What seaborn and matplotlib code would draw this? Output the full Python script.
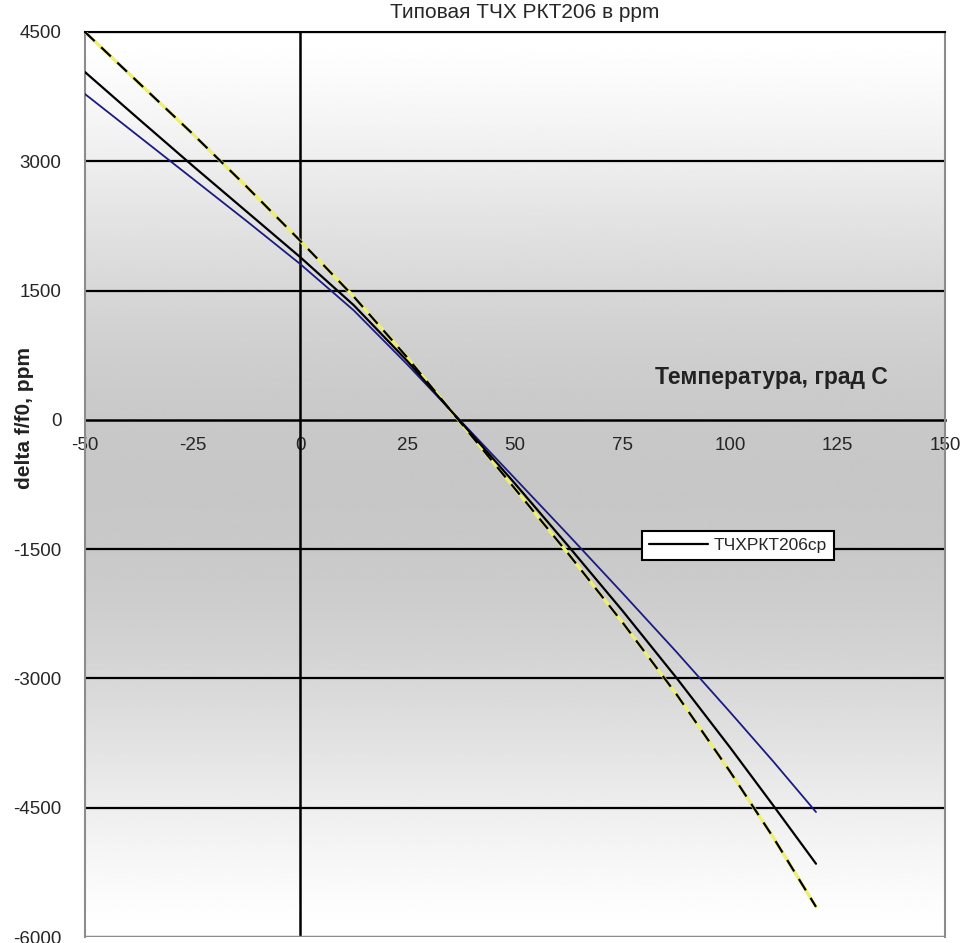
import numpy as np
import pandas as pd
import matplotlib
matplotlib.use("Agg")
import matplotlib.pyplot as plt
import seaborn as sns

# ---- data ----
temps = [-50, -37.5, -25, -12.5, 0, 12.5, 25, 37.5, 50, 62.5, 75, 87.5, 100, 110, 120]
upper_dashed = [4500, 3910, 3320, 2710, 2080, 1430, 720, -40, -800, -1560, -2350, -3180, -4080, -4840, -5650]
avg_solid = [4035, 3490, 2950, 2420, 1890, 1330, 680, -30, -740, -1470, -2215, -2990, -3800, -4470, -5150]
lower_navy = [3780, 3290, 2800, 2310, 1810, 1270, 640, -20, -680, -1340, -2010, -2690, -3390, -3960, -4550]

x_ticks = [-50, -25, 0, 25, 50, 75, 100, 125, 150]
y_ticks = [-6000, -4500, -3000, -1500, 0, 1500, 3000, 4500]

title = "Типовая ТЧХ РКТ206 в ppm"
x_label = "Температура, град С"
y_label = "delta f/f0, ppm"
legend_label = "ТЧХРКТ206ср"

sns.set_style("white")
plt.rcParams['font.family'] = ['Liberation Sans', 'DejaVu Sans']

df = pd.DataFrame({"t": temps, "up": upper_dashed, "avg": avg_solid, "low": lower_navy})

fig = plt.figure(figsize=(9.65, 9.43), dpi=100)
ax = fig.add_axes([85/965, 6/943, 860/965, 905/943])

# background gradient
t = np.linspace(0, 1, 400)
grad = 1 - 0.22 * np.sin(np.pi * t) ** 1.4
ax.imshow(grad[:, None], extent=[-50, 150, -6000, 4500], aspect='auto',
          cmap='gray', vmin=0, vmax=1, zorder=0, interpolation='bilinear')

# grid lines (horizontal) and vertical axis at 0
for yv in y_ticks:
    if yv not in (0, -6000):
        ax.axhline(yv, color='black', lw=1.6, zorder=1)
ax.axvline(0, color='black', lw=1.8, zorder=1)

# series
sns.lineplot(data=df, x="t", y="up", ax=ax, color='#eeee70', lw=2.4, zorder=3, legend=False)
sns.lineplot(data=df, x="t", y="up", ax=ax, color='black', lw=1.6, zorder=4,
             linestyle=(0, (6, 4)), legend=False)
sns.lineplot(data=df, x="t", y="low", ax=ax, color='#1a1a80', lw=1.3, zorder=3, legend=False)
sns.lineplot(data=df, x="t", y="avg", ax=ax, color='black', lw=1.6, zorder=4, label=legend_label)

ax.set_xlim(-50, 150)
ax.set_ylim(-6000, 4500)
ax.set_xticks(x_ticks)
ax.set_yticks(y_ticks)
ax.set_xticklabels([str(v) for v in x_ticks])
ax.set_yticklabels([str(v) for v in y_ticks])
ax.set_xlabel("")
ax.set_ylabel("")

for s in ['top', 'right', 'left']:
    ax.spines[s].set_color('#8c8c8c')
    ax.spines[s].set_linewidth(1.5)
ax.spines['top'].set_color('black')
ax.spines['bottom'].set_position(('data', 0))
ax.spines['bottom'].set_color('black')
ax.spines['bottom'].set_linewidth(1.8)
ax.spines['bottom'].set_zorder(2)
ax.axhline(-6000, color='#8c8c8c', lw=2.5, zorder=2)

ax.tick_params(axis='x', direction='out', length=7, width=1.5, color='black', pad=5,
               labelsize=13.5)
ax.tick_params(axis='y', length=0, pad=17, labelsize=13.5)

ax.text(0.663, 0.618, x_label, transform=ax.transAxes, fontsize=16.5,
        fontweight='bold', color='#222222', ha='left', va='center')
fig.text(25/965, 1 - 418/943, y_label, rotation=90, fontsize=15,
         fontweight='bold', color='#222222', ha='center', va='center')
fig.text(525/965, 1 - 13/943, title, fontsize=15, ha='center', va='center')

leg = ax.legend(loc='center left', bbox_to_anchor=(0.638, 0.433), frameon=True,
                fancybox=False, edgecolor='black', facecolor='white', framealpha=1,
                fontsize=12.5, handlelength=3.4, borderpad=0.4, handletextpad=0.3)
leg.get_frame().set_linewidth(1.5)
leg.set_zorder(10)

fig.savefig("out.png", dpi=100)
